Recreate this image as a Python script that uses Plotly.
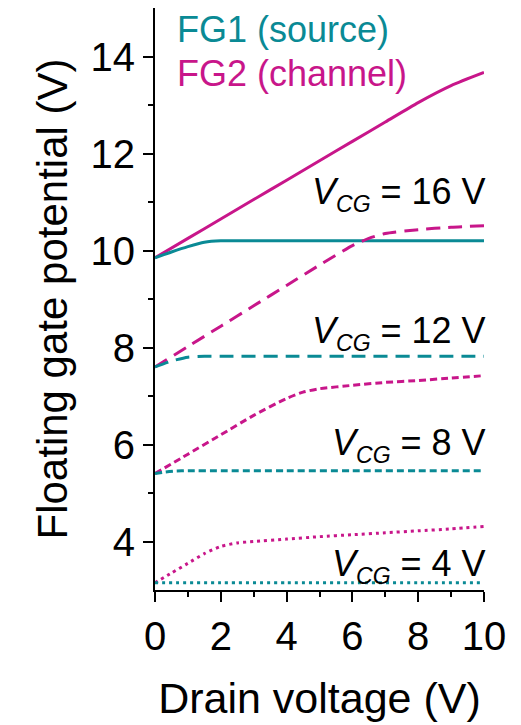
import plotly.graph_objects as go

teal = "#0A8A95"
mag = "#C8168A"

# FG2 (channel) curves
x16_fg2 = [0, 1, 2, 3, 4, 5, 6, 7, 8, 9, 10]
y16_fg2 = [9.85, 10.25, 10.65, 11.05, 11.45, 11.85, 12.25, 12.65, 13.05, 13.4, 13.67]
x16_fg1 = [0, 0.5, 1, 1.5, 2, 3, 4, 6, 8, 10]
y16_fg1 = [9.85, 9.97, 10.08, 10.17, 10.2, 10.2, 10.2, 10.2, 10.2, 10.2]

x12_fg2 = [0, 1, 2, 3, 4, 5, 6, 6.5, 7, 8, 9, 10]
y12_fg2 = [7.6, 8.02, 8.44, 8.86, 9.28, 9.7, 10.1, 10.25, 10.35, 10.43, 10.48, 10.51]
x12_fg1 = [0, 0.5, 1, 1.5, 2, 4, 6, 8, 10]
y12_fg1 = [7.6, 7.72, 7.8, 7.82, 7.82, 7.82, 7.82, 7.82, 7.82]

x8_fg2 = [0, 1, 2, 3, 4, 4.5, 5, 6, 7, 8, 9, 10]
y8_fg2 = [5.4, 5.8, 6.2, 6.6, 6.95, 7.08, 7.15, 7.22, 7.28, 7.32, 7.37, 7.42]
x8_fg1 = [0, 0.3, 0.6, 1, 2, 4, 6, 8, 10]
y8_fg1 = [5.4, 5.43, 5.45, 5.46, 5.46, 5.46, 5.46, 5.46, 5.46]

x4_fg2 = [0, 0.5, 1, 1.5, 2, 2.5, 3, 4, 5, 6, 7, 8, 9, 10]
y4_fg2 = [3.15, 3.35, 3.55, 3.75, 3.9, 3.97, 4.0, 4.05, 4.1, 4.14, 4.18, 4.22, 4.26, 4.31]
x4_fg1 = [0, 2, 4, 6, 8, 10]
y4_fg1 = [3.15, 3.15, 3.15, 3.15, 3.15, 3.15]

vcg_labels = ["16", "12", "8", "4"]
vcg_label_y = [11.17, 8.3, 5.99, 3.5]

fig = go.Figure()

series = [
    (x16_fg2, y16_fg2, mag, "solid"),
    (x16_fg1, y16_fg1, teal, "solid"),
    (x12_fg2, y12_fg2, mag, "14px,8px"),
    (x12_fg1, y12_fg1, teal, "14px,8px"),
    (x8_fg2, y8_fg2, mag, "7px,4px"),
    (x8_fg1, y8_fg1, teal, "7px,4px"),
    (x4_fg2, y4_fg2, mag, "3px,4px"),
    (x4_fg1, y4_fg1, teal, "3px,4px"),
]
for xs, ys, c, d in series:
    fig.add_trace(go.Scatter(x=xs, y=ys, mode="lines",
                             line=dict(color=c, width=3, dash=d, shape="spline", smoothing=0.6),
                             showlegend=False, hoverinfo="skip"))

FONT = "Liberation Sans, Arial"
for lab, yy in zip(vcg_labels, vcg_label_y):
    fig.add_annotation(x=10, y=yy, xref="x", yref="y", xanchor="right", yanchor="middle",
                       xshift=4,
                       text=f"<i>V</i><sub><i><span style='font-size:23px'>CG</span></i></sub> = {lab} V",
                       showarrow=False,
                       font=dict(size=36, color="black", family=FONT))

fig.add_annotation(x=0.6, y=14.55, xref="x", yref="y", xanchor="left", yanchor="middle",
                   text="FG1 (source)", showarrow=False,
                   font=dict(size=36, color=teal, family=FONT))
fig.add_annotation(x=0.6, y=13.65, xref="x", yref="y", xanchor="left", yanchor="middle",
                   text="FG2 (channel)", showarrow=False,
                   font=dict(size=36, color=mag, family=FONT))

fig.update_layout(
    width=521, height=725,
    margin=dict(l=155, r=37, t=8, b=135),
    paper_bgcolor="white", plot_bgcolor="white",
    font=dict(family=FONT, color="black"),
    xaxis=dict(range=[0, 10], tickvals=[0, 2, 4, 6, 8, 10], showgrid=False, zeroline=False,
               showline=True, linecolor="black", linewidth=2, ticks="outside", ticklen=10,
               tickwidth=2, tickcolor="black", tickfont=dict(size=40),
               minor=dict(tickvals=[1, 3, 5, 7, 9], ticks="outside", ticklen=5, tickwidth=2, tickcolor="black"),
               title=dict(text="Drain voltage (V)", font=dict(size=43), standoff=26)),
    yaxis=dict(range=[3, 15], tickvals=[4, 6, 8, 10, 12, 14], showgrid=False, zeroline=False,
               showline=True, linecolor="black", linewidth=2, ticks="outside", ticklen=10,
               tickwidth=2, tickcolor="black", tickfont=dict(size=40),
               minor=dict(tickvals=[5, 7, 9, 11, 13], ticks="outside", ticklen=5, tickwidth=2, tickcolor="black"),
               title=dict(text="Floating gate potential (V)", font=dict(size=42), standoff=10)),
)

fig.write_html("out.html")
